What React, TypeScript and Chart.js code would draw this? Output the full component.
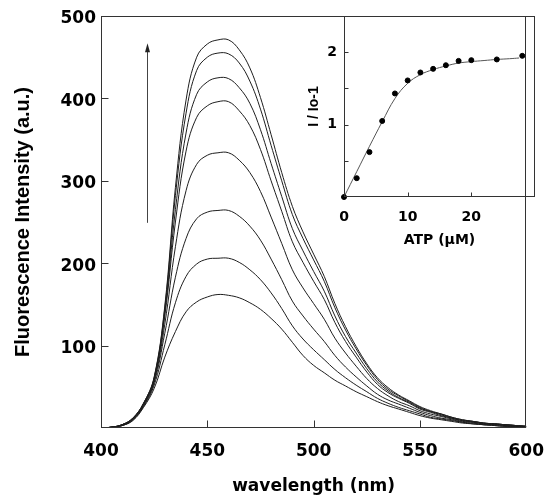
import React, { useEffect, useRef } from "react";
import { Chart, registerables } from "chart.js";

Chart.register(...registerables);

// ---------- main spectra ----------
const wavelengths = [400,405,410,415,420,425,430,435,440,445,450,455,460,465,470,475,480,485,490,495,500,505,510,515,520,525,530,535,540,545,550,555,560,565,570,575,580,585,590,595,600];
const spectrum1 = [0,1,4,12,30,62,148,292,398,450,466,471,471,459,437,401,356,310,269,238,211,184,151,123,99,78,61,49,40,33,26,21,17,13,10,8,6,5,4,3,2];
const spectrum2 = [0,1,4,12,30,61,145,282,382,434,450,455,454,443,421,387,343,300,259,230,204,178,146,119,96,76,59,47,39,32,25,20,17,13,10,8,6,5,4,3,2];
const spectrum3 = [0,1,4,12,29,60,140,265,358,405,420,425,424,413,394,362,321,281,242,215,190,166,136,111,91,72,56,45,37,31,24,20,16,12,9,8,6,5,4,3,2];
const spectrum4 = [0,1,4,11,29,59,136,250,336,377,391,396,396,385,367,338,300,263,226,201,178,156,128,105,86,68,53,43,36,30,23,19,15,12,9,7,5,5,4,3,2];
const spectrum5 = [0,1,4,11,28,57,126,220,288,320,331,334,334,325,310,287,256,224,192,170,151,132,109,91,75,60,48,39,32,27,21,17,14,11,8,7,5,4,3,2,2];
const spectrum6 = [0,1,3,10,27,55,115,183,230,254,262,264,264,257,245,228,205,180,154,136,120,105,88,74,62,51,41,34,29,24,19,15,12,10,7,6,4,4,3,2,1];
const spectrum7 = [0,1,3,10,26,52,101,152,184,199,205,206,206,201,192,180,164,145,124,108,95,83,71,61,52,44,36,30,25,21,17,13,11,9,7,5,4,3,2,2,1];
const spectrum8 = [0,1,3,9,25,48,86,117,141,153,159,162,161,158,152,144,133,120,104,88,76,67,58,51,44,38,32,27,23,19,15,12,10,8,6,5,4,3,2,2,1];
const spectra = [spectrum1, spectrum2, spectrum3, spectrum4, spectrum5, spectrum6, spectrum7, spectrum8];

const mainXTicks = [400, 450, 500, 550, 600];
const mainXTickMarks = [450, 500, 550];
const mainYTicks = [100, 200, 300, 400, 500];
const mainYTickMarks = [100, 200, 300, 400];
// arrow annotation (data coordinates)
const arrowX = 421.8;
const arrowFrom = 249;
const arrowTo = 467;

// ---------- inset ----------
const atpConc = [0, 2, 4, 6, 8, 10, 12, 14, 16, 18, 20, 24, 28];
const atpRatio = [0, 0.26, 0.62, 1.05, 1.43, 1.61, 1.72, 1.77, 1.82, 1.88, 1.89, 1.9, 1.95];
const fitConc = [0, 2, 4, 6, 8, 10, 12, 14, 16, 18, 20, 22, 24, 26, 27.5];
const fitRatio = [0, 0.35, 0.7, 1.04, 1.36, 1.57, 1.69, 1.76, 1.81, 1.85, 1.87, 1.885, 1.9, 1.91, 1.92];
const insetXTicks = [0, 10, 20];
const insetXTickMarks = [10, 20];
const insetYTicks = [1, 2];
const insetYTickMarks = [0.5, 1, 1.5, 2];

const wideBold = (size: number) => ({ family: "'DejaVu Sans', sans-serif", weight: "bold" as const, size });
const narrowBold = (size: number) => ({ family: "'Liberation Sans', Arial, sans-serif", weight: "bold" as const, size });

function framePlugin(xMarks: number[], yMarks: number[], len: number, arrow?: boolean) {
  return {
    id: "frameTicks",
    afterDraw(chart: any) {
      const { ctx, chartArea: a, scales } = chart;
      ctx.save();
      ctx.strokeStyle = "#333";
      ctx.lineWidth = 1;
      const l = Math.round(a.left) + 0.5;
      const r = Math.round(a.right) - 0.5;
      const t = Math.round(a.top) + 0.5;
      const b = Math.round(a.bottom) - 0.5;
      ctx.strokeRect(l, t, r - l, b - t);
      ctx.beginPath();
      xMarks.forEach((v) => {
        const px = Math.round(scales.x.getPixelForValue(v)) + 0.5;
        ctx.moveTo(px, b);
        ctx.lineTo(px, b - len);
      });
      yMarks.forEach((v) => {
        const py = Math.round(scales.y.getPixelForValue(v)) + 0.5;
        ctx.moveTo(l, py);
        ctx.lineTo(l + len, py);
      });
      ctx.stroke();
      if (arrow) {
        const ax = Math.round(scales.x.getPixelForValue(arrowX)) + 0.5;
        const y0 = scales.y.getPixelForValue(arrowFrom);
        const y1 = scales.y.getPixelForValue(arrowTo);
        ctx.strokeStyle = "#444";
        ctx.beginPath();
        ctx.moveTo(ax, y0);
        ctx.lineTo(ax, y1 + 6);
        ctx.stroke();
        ctx.fillStyle = "#222";
        ctx.beginPath();
        ctx.moveTo(ax, y1);
        ctx.lineTo(ax - 2.5, y1 + 9);
        ctx.lineTo(ax + 2.5, y1 + 9);
        ctx.closePath();
        ctx.fill();
      }
      ctx.restore();
    },
  };
}

export default function App() {
  const mainRef = useRef<HTMLCanvasElement | null>(null);
  const insetRef = useRef<HTMLCanvasElement | null>(null);

  useEffect(() => {
    if (!mainRef.current || !insetRef.current) return;

    const main = new Chart(mainRef.current, {
      type: "line",
      data: {
        datasets: spectra.map((s, k) => ({
          label: "spectrum " + (k + 1),
          data: wavelengths.map((w, i) => ({ x: w, y: s[i] })),
          borderColor: "#1e1e1e",
          borderWidth: 1,
          pointRadius: 0,
          fill: false,
          tension: 0.4,
        })),
      },
      options: {
        responsive: false,
        animation: false,
        devicePixelRatio: 1,
        layout: { padding: { left: 0, top: 16, right: 23, bottom: 0 } },
        plugins: { legend: { display: false }, tooltip: { enabled: false } },
        scales: {
          x: {
            type: "linear",
            min: 400,
            max: 600,
            afterFit: (s: any) => { s.height = 69; },
            afterBuildTicks: (s: any) => { s.ticks = mainXTicks.map((v) => ({ value: v })); },
            grid: { display: false, drawTicks: false },
            border: { display: false },
            ticks: { padding: 13, color: "#000", font: wideBold(17), maxRotation: 0 },
            title: { display: true, text: "wavelength (nm)", color: "#000", font: wideBold(17), padding: { top: 0, bottom: 0 } },
          },
          y: {
            type: "linear",
            min: 0,
            max: 500,
            afterFit: (s: any) => { s.width = 101; },
            afterBuildTicks: (s: any) => { s.ticks = mainYTicks.map((v) => ({ value: v })); },
            grid: { display: false, drawTicks: false },
            border: { display: false },
            ticks: { padding: 5, color: "#000", font: wideBold(17), labelOffset: 3 },
            title: { display: true, text: "Fluorescence Intensity (a.u.)", color: "#000", font: narrowBold(20), padding: { top: 11, bottom: 0 } },
          },
        },
      },
      plugins: [framePlugin(mainXTickMarks, mainYTickMarks, 7, true)],
    });

    const inset = new Chart(insetRef.current, {
      type: "scatter",
      data: {
        datasets: [
          {
            label: "data",
            data: atpConc.map((c, i) => ({ x: c, y: atpRatio[i] })),
            backgroundColor: "#000",
            borderColor: "#000",
            pointRadius: 2.5,
            showLine: false,
            clip: false,
            order: 0,
          },
          {
            label: "fit",
            data: fitConc.map((c, i) => ({ x: c, y: fitRatio[i] })),
            borderColor: "#555",
            borderWidth: 1,
            pointRadius: 0,
            showLine: true,
            tension: 0.4,
            order: 1,
          },
        ],
      },
      options: {
        responsive: false,
        animation: false,
        devicePixelRatio: 1,
        layout: { padding: { left: 300, top: 16, right: 22, bottom: 248 } },
        plugins: { legend: { display: false }, tooltip: { enabled: false } },
        scales: {
          x: {
            type: "linear",
            min: 0,
            max: 30,
            afterFit: (s: any) => { s.height = 52; },
            afterBuildTicks: (s: any) => { s.ticks = insetXTicks.map((v) => ({ value: v })); },
            grid: { display: false, drawTicks: false },
            border: { display: false },
            ticks: { padding: 12, color: "#000", font: wideBold(14), maxRotation: 0 },
            title: { display: true, text: "ATP (\u00b5M)", color: "#000", font: wideBold(14), padding: { top: 0, bottom: 0 } },
          },
          y: {
            type: "linear",
            min: 0,
            max: 2.5,
            afterFit: (s: any) => { s.width = 44; },
            afterBuildTicks: (s: any) => { s.ticks = insetYTicks.map((v) => ({ value: v })); },
            grid: { display: false, drawTicks: false },
            border: { display: false },
            ticks: { padding: 7, color: "#000", font: wideBold(14) },
            title: { display: true, text: "I / Io-1", color: "#000", font: narrowBold(14), padding: { top: 6, bottom: 0 } },
          },
        },
      },
      plugins: [framePlugin(insetXTickMarks, insetYTickMarks, 4, false)],
    });

    return () => {
      main.destroy();
      inset.destroy();
    };
  }, []);

  const canvasStyle: React.CSSProperties = { position: "absolute", left: 0, top: 0, width: 557, height: 497, display: "block" };
  return (
    <div style={{ position: "fixed", left: 0, top: 0, width: 557, height: 497, background: "#fff" }}>
      <canvas ref={mainRef} width={557} height={497} style={canvasStyle} />
      <canvas ref={insetRef} width={557} height={497} style={canvasStyle} />
    </div>
  );
}
